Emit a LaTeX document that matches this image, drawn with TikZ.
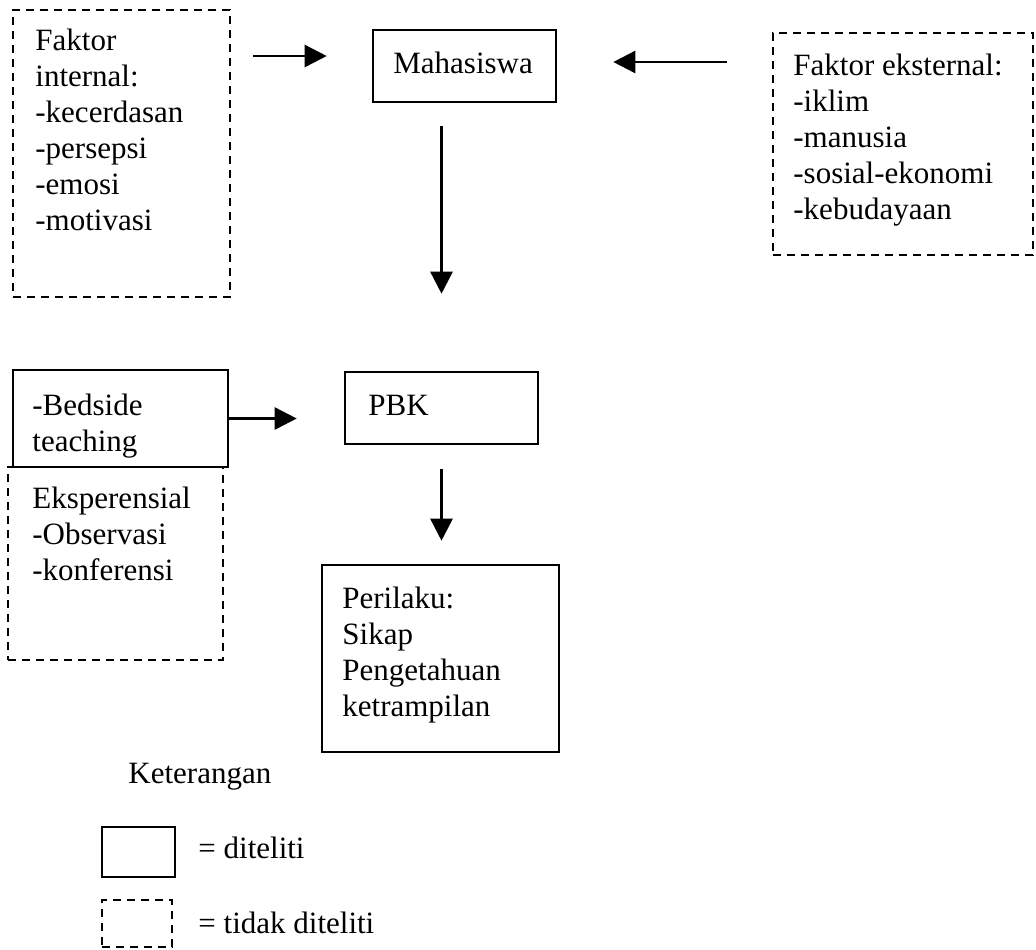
\documentclass[tikz,border=0pt]{standalone}
\usepackage{fontspec}
\setmainfont{Liberation Serif}
\usetikzlibrary{arrows.meta,fit}

\begin{document}
\begin{tikzpicture}[x=0.5pt,y=-0.5pt,
    box/.style={draw, line width=1.3pt, inner sep=0pt},
    dbox/.style={box, dash pattern=on 4.2pt off 2.8pt},
    txt/.style={inner sep=0pt, align=left, anchor=north west, font=\fontsize{15.5}{18}\selectfont},
    arr/.style={line width=1.3pt, -{Triangle[length=11pt,width=11pt]}}]
    \useasboundingbox (0,0) rectangle (1036,949);
    \begin{scope}
      \node[dbox, fit={(13,10) (230,297)}]  (int) {};
      \node[box,  fit={(373,30) (556,102)}] (mah) {};
      \node[dbox, fit={(773,33) (1033,255)}] (ext) {};
      \node[dbox, fit={(8,467) (223,660)}]  (eks) {};
      \node[box,  fit={(13,370) (228,467)}] (bed) {};
      \node[box,  fit={(345,372) (538,444)}] (pbk) {};
      \node[box,  fit={(322,565) (559,752)}] (per) {};
      \node[box,  fit={(102,827) (175,877)}] (lgsolid) {};
      \node[dbox, fit={(102,900) (172,947)}] (lgdash) {};
      \node[txt] (inttxt) at (35,29) {Faktor\\internal:\\-kecerdasan\\-persepsi\\-emosi\\-motivasi};
      \node[txt, anchor=base west] (mahtxt) at (393,73) {Mahasiswa};
      \node[txt] (exttxt) at (793,54) {Faktor eksternal:\\-iklim\\-manusia\\-sosial-ekonomi\\-kebudayaan};
      \node[txt] (bedtxt) at (32,394) {-Bedside\\teaching};
      \node[txt] (ekstxt) at (32,487) {Eksperensial\\-Observasi\\-konferensi};
      \node[txt, anchor=base west] (pbktxt) at (368,415) {PBK};
      \node[txt] (pertxt) at (342,587) {Perilaku:\\Sikap\\Pengetahuan\\ketrampilan};
      \node[txt, anchor=base west] (kettxt) at (128,783) {Keterangan};
      \node[txt, anchor=base west] (lgsolidtxt) at (198,858) {= diteliti};
      \node[txt, anchor=base west] (lgdashtxt) at (198,933) {= tidak diteliti};
      \draw[arr, shorten <=11pt, shorten >=22.5pt] (int.east |- 0,56) -- (mah.west |- 0,56);
      \draw[arr, shorten <=22.5pt, shorten >=28pt] (ext.west |- 0,62) -- (mah.east |- 0,62);
      \draw[arr, shorten <=11.5pt, shorten >=38.5pt] (mah.south -| pbk.north) -- (pbk.north);
      \draw[arr, shorten >=23.5pt] (bed.east) -- (pbk.west |- bed.east);
      \draw[arr, shorten <=12pt, shorten >=11.5pt] (pbk.south) -- (per.north -| pbk.south);
    \end{scope}
  \end{tikzpicture}
\end{document}
